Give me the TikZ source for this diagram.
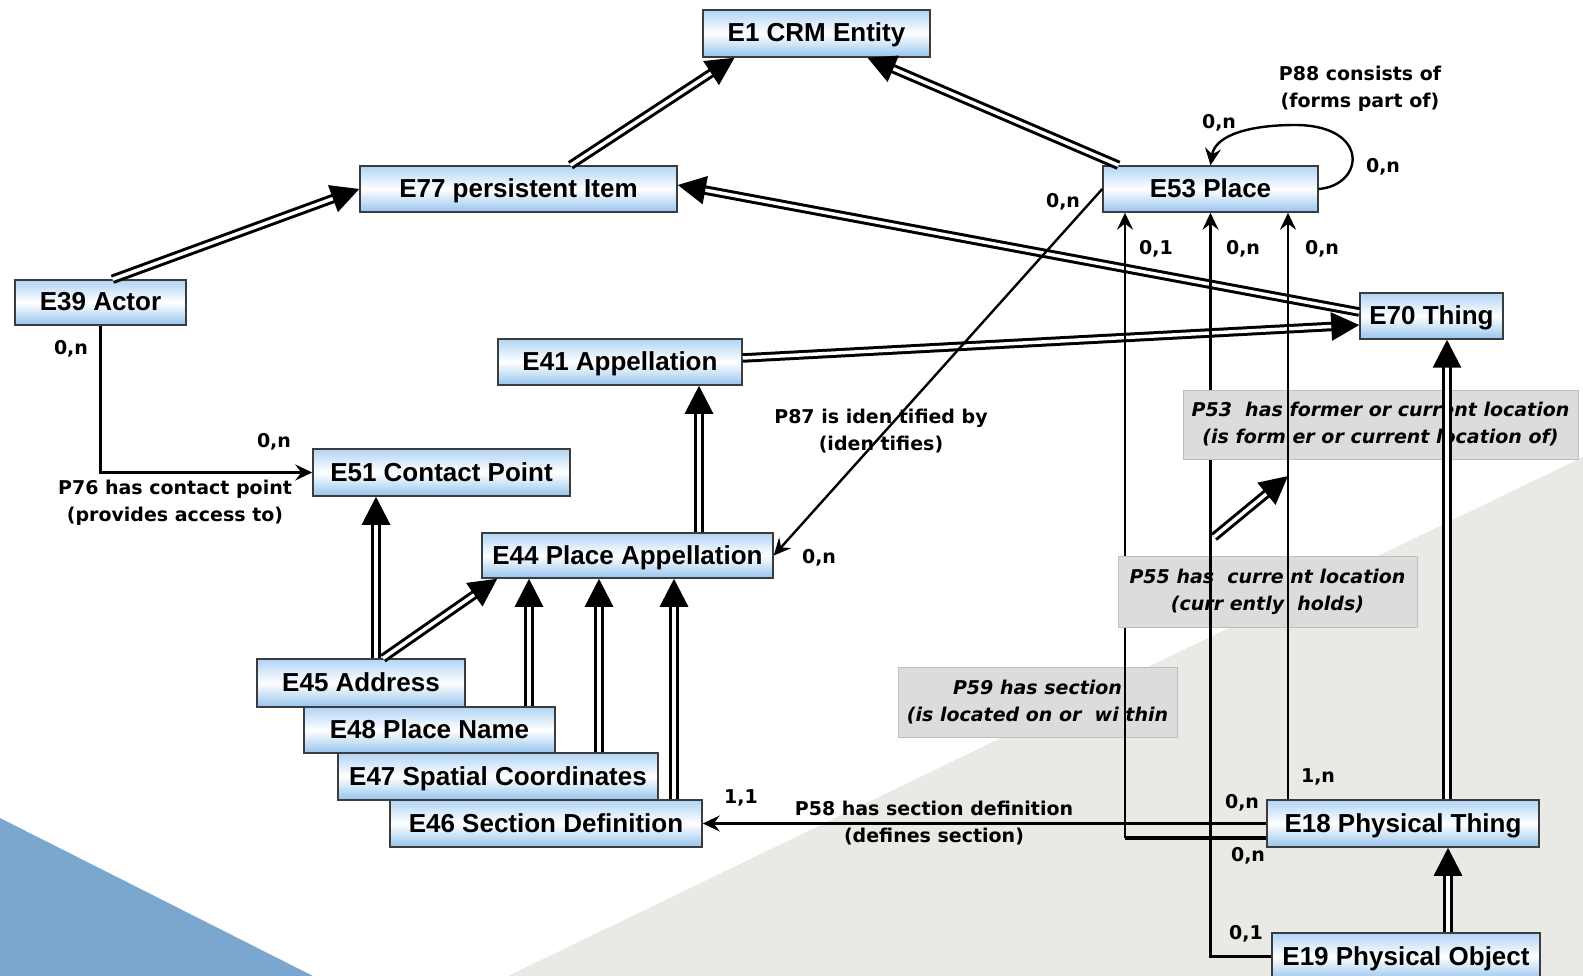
\documentclass[tikz,border=0pt]{standalone}
\usepackage{fontspec}
\setmainfont{Liberation Sans}
\newfontfamily\lblfont{DejaVu Sans}
\usetikzlibrary{positioning,arrows.meta}
\tikzset{>={Stealth[length=17pt,width=16pt,inset=6pt]}}
\definecolor{boxtop}{RGB}{176,212,245}
\definecolor{boxbot}{RGB}{150,196,238}
\definecolor{boxline}{RGB}{60,60,60}
\definecolor{bgblue}{RGB}{123,167,207}
\definecolor{bggray}{RGB}{233,233,229}
\definecolor{lblfill}{RGB}{220,220,220}
\definecolor{lblline}{RGB}{190,190,190}

\begin{document}
\begin{tikzpicture}[x=1pt, y=-1pt, text centered]
    \tikzset{%
      ent/.style={draw=boxline, line width=1.5pt, top color=boxtop, bottom color=boxbot, middle color=white,
        font=\fontsize{26pt}{30pt}\selectfont\bfseries, text height=19pt, text depth=2pt, inner sep=0pt},
      isa/.style={draw, line width=3pt, double, double distance=3.5pt, -{Triangle[length=28pt,width=28pt]}},
      prop/.style={line width=2.4pt, ->},
      card/.style={font=\lblfont\fontsize{19pt}{27pt}\selectfont\bfseries},
      pname/.style={card, align=center},
      pbox/.style={pname, fill=lblfill, draw=lblline, line width=1pt,
        font=\lblfont\fontsize{19pt}{27pt}\selectfont\bfseries\itshape}
      }
     \useasboundingbox (0,0) rectangle (1583,976);
     \fill [white] (0,0) rectangle (1583,976);
     \fill [bggray] (508,976) -- (1583,457) -- (1583,976) -- cycle;
     \fill [bgblue] (0,818) -- (313,976) -- (0,976) -- cycle;

     \node [ent, minimum width=227pt, minimum height=47pt] (E1) at (816.5,33.5) {E1 CRM Entity};
     \node [ent, minimum width=317pt, minimum height=46pt] (E77) at (518.5,189) {E77 persistent Item};
     \node [ent, minimum width=215pt, minimum height=46pt] (E53) at (1210.5,189) {E53 Place};
     \node [ent, minimum width=171pt, minimum height=45pt] (E39) at (100.5,302.5) {E39 Actor};
     \node [ent, minimum width=143pt, minimum height=46pt] (E70) at (1431.5,316) {E70 Thing};
     \node [ent, minimum width=244pt, minimum height=46pt] (E41) at (620,362) {E41 Appellation};
     \node [ent, minimum width=257pt, minimum height=47pt] (E51) at (441.5,472.5) {E51 Contact Point};
     \node [ent, minimum width=291pt, minimum height=45pt] (E44) at (627.5,555.5) {E44 Place Appellation};
     \node [ent, minimum width=208pt, minimum height=48pt] (E45) at (361,683) {E45 Address};
     \node [ent, minimum width=251pt, minimum height=46pt] (E48) at (429.5,730) {E48 Place Name};
     \node [ent, minimum width=320pt, minimum height=47pt] (E47) at (498,776.5) {E47 Spatial Coordinates};
     \node [ent, minimum width=312pt, minimum height=47pt] (E46) at (546,823.5) {E46 Section Definition};
     \node [ent, minimum width=272pt, minimum height=47pt] (E18) at (1403,823.5) {E18 Physical Thing};
     \node [ent, minimum width=268pt, minimum height=47pt] (E19) at (1406,956.5) {E19 Physical Object};

     \draw [isa] ([xshift=52pt]E77.north) -- ([xshift=-82pt]E1.south);
     \draw [isa] ([xshift=-92pt]E53.north) -- ([xshift=51pt]E1.south);
     \draw [isa] ([xshift=12pt]E39.north) -- (E77.west);
     \draw [isa] ([yshift=4pt]E70.west) -- ([yshift=4pt]E77.east);
     \draw [isa] ([yshift=4pt]E41.east) -- ([yshift=-9pt]E70.west);
     \draw [isa] ([xshift=71.5pt]E44.north) -- ([xshift=79pt]E41.south);
     \draw [isa] ([xshift=15pt]E45.north) -- ([xshift=-65.5pt]E51.south);
     \draw [isa] ([xshift=22pt]E45.north) -- ([xshift=16pt]E44.south west);
     \draw [isa] ([xshift=99.5pt]E48.north) -- ([xshift=-98.5pt]E44.south);
     \draw [isa] ([xshift=101pt]E47.north) -- ([xshift=-28.5pt]E44.south);
     \draw [isa] ([xshift=128pt]E46.north) -- ([xshift=46.5pt]E44.south);
     \draw [isa] ([xshift=42pt]E19.north) -- ([xshift=45pt]E18.south);

     \node [pbox, minimum width=279pt, minimum height=70pt] (P59) at (1037.5,702) {P59 has section\\(is located on or~ wi thin};
     \coordinate (c59) at (1125,838);
     \draw [line width=4.5pt] (E18.west |- c59) -- (c59);
     \draw [prop] (c59) -- (c59 |- E53.south);
     \node [pbox, minimum width=299pt, minimum height=71pt] (P55) at (1267.5,591.5) {P55 has~ curre nt location\\(curr ently~ holds)};
     \draw [prop] (E19.west) -| (E53.south);
     \node [pbox, minimum width=395pt, minimum height=69pt] (P53) at (1380.5,424.5) {P53~ has former or current location\\(is form er or current location of)};
     \draw [prop] ([xshift=-115pt]E18.north) -- ([xshift=77.5pt]E53.south);
     \draw [isa] ([xshift=44pt]E18.north) -- ([xshift=15.5pt]E70.south);
     \coordinate (p55a) at (1214,537);
     \coordinate (p53a) at (1288,476);
     \draw [isa] (p55a) -- (p53a);

     \draw [prop] (E39.south) |- (E51.west);
     \draw [prop] (E53.west) -- (E44.east);
     \draw [prop] (E53.east) .. controls (1365,185) and (1370,125) .. (1295,125) .. controls (1250,125) and (1215,135) .. (E53.north);
     \draw [prop] (E18.west) -- (E46.east);

     \node [pname] (P76) at (175,503) {P76 has contact point\\(provides access to)};
     \node [pname] (P87) at (881,431) {P87 is iden tified by\\(iden tifies)};
     \node [pname] (P88) at (1360,89) {P88 consists of\\(forms part of)};
     \node [pname] (P58) at (934,823) {P58 has section definition\\(defines section)};

     \node [card] (k1) at (71,349) {0,n};
     \node [card] (k2) at (274,442) {0,n};
     \node [card] (k3) at (1063,202) {0,n};
     \node [card] (k4) at (819,558) {0,n};
     \node [card] (k5) at (1219,123) {0,n};
     \node [card] (k6) at (1383,167) {0,n};
     \node [card] (k7) at (1156,249) {0,1};
     \node [card] (k8) at (1243,249) {0,n};
     \node [card] (k9) at (1322,249) {0,n};
     \node [card] (k10) at (1318,777) {1,n};
     \node [card] (k11) at (1242,803) {0,n};
     \node [card] (k12) at (1248,856) {0,n};
     \node [card] (k13) at (1246,934) {0,1};
     \node [card] (k14) at (741,798) {1,1};
  \end{tikzpicture}
\end{document}
